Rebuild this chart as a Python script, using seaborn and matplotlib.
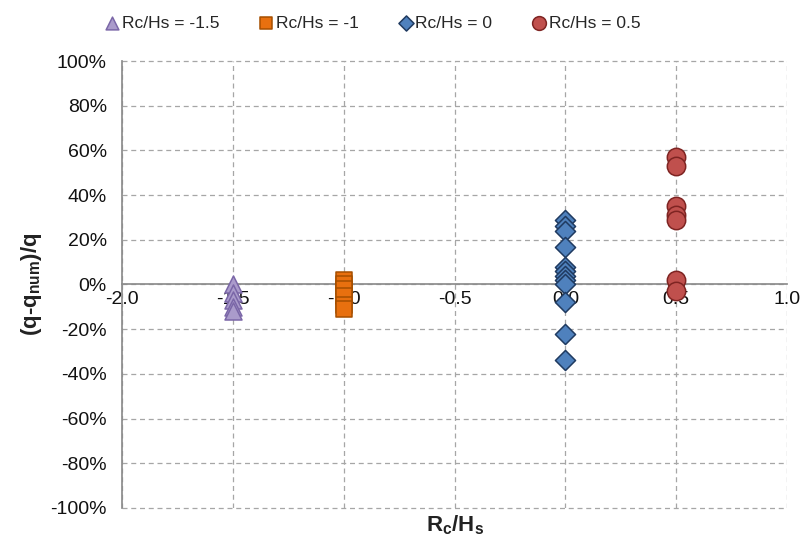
import numpy as np
import pandas as pd
import matplotlib
matplotlib.use("Agg")
import matplotlib.pyplot as plt
from matplotlib.ticker import FuncFormatter
import seaborn as sns

# Relative overtopping error per freeboard ratio
rc_hs_m15 = [0, -4, -7, -10, -12]
rc_hs_m1 = [2, 0, -2, -5, -9, -11]
rc_hs_0 = [29, 26, 24, 17, 8, 6, 4, 2, 0, -8, -22, -34]
rc_hs_05 = [57, 53, 35, 31, 29, 2, -3]

groups = [
    ("Rc/Hs = -1.5", -1.5, rc_hs_m15, "^", "#AA9BCB", "#7B67A8", 150),
    ("Rc/Hs = -1", -1.0, rc_hs_m1, "s", "#E8700F", "#A64F00", 120),
    ("Rc/Hs = 0", 0.0, rc_hs_0, "D", "#4F81BD", "#1F3A60", 105),
    ("Rc/Hs = 0.5", 0.5, rc_hs_05, "o", "#C0504D", "#7E2422", 175),
]

x_ticks = [-2.0, -1.5, -1.0, -0.5, 0.0, 0.5, 1.0]
y_ticks = [-100, -80, -60, -40, -20, 0, 20, 40, 60, 80, 100]

sns.set_theme(style="white")
plt.rcParams["font.family"] = ["Liberation Sans", "DejaVu Sans"]
plt.rcParams["axes.unicode_minus"] = False
plt.rcParams["mathtext.fontset"] = "custom"
plt.rcParams["mathtext.rm"] = "Liberation Sans"
plt.rcParams["mathtext.bf"] = "Liberation Sans:bold"

fig = plt.figure(figsize=(8.05, 5.38), dpi=100)
ax = fig.add_axes([0.1516, 0.0558, 0.8260, 0.8308])

for label, xv, vals, mk, fc, ec, size in groups:
    df = pd.DataFrame({"x": [xv] * len(vals), "y": vals})
    sns.scatterplot(data=df, x="x", y="y", marker=mk, s=size, color=fc,
                    edgecolor=ec, linewidth=1.1, ax=ax, label=label,
                    zorder=3, clip_on=False)

ax.set_xlim(-2.0, 1.0)
ax.set_ylim(-100, 100)
ax.set_xticks(x_ticks)
ax.set_yticks(y_ticks)
ax.xaxis.set_major_formatter(FuncFormatter(lambda v, p: f"{v:.1f}"))
ax.yaxis.set_major_formatter(FuncFormatter(lambda v, p: f"{v:.0f}%"))

ax.grid(True, color="#a6a6a6", linestyle=(0, (4, 3)), linewidth=0.9)
ax.set_axisbelow(True)
for gl in ax.get_xgridlines() + ax.get_ygridlines():
    gl.set_clip_on(False)

for side in ("top", "right"):
    ax.spines[side].set_visible(False)
ax.spines["bottom"].set_position(("data", 0))
ax.spines["bottom"].set_color("#8c8c8c")
ax.spines["left"].set_color("#8c8c8c")
ax.spines["bottom"].set_zorder(2)

ax.tick_params(axis="x", direction="inout", length=6, color="#8c8c8c",
               labelsize=14, pad=2, labelcolor="#111111")
ax.tick_params(axis="y", direction="out", length=5, color="#8c8c8c",
               labelsize=14, pad=6, labelcolor="#111111")

ax.set_xlabel(r"R$_\mathbf{c}$/H$_\mathbf{s}$", fontsize=16, fontweight="bold",
              color="#222222")
ax.xaxis.set_label_coords(0.5, -0.012)
ax.set_ylabel(r"(q-q$_\mathbf{num}$)/q", fontsize=16, fontweight="bold",
              color="#222222")
ax.yaxis.set_label_coords(-0.117, 0.5)

handles, labels = ax.get_legend_handles_labels()
ax.legend_.remove()
fig.legend(handles, labels, loc="center", bbox_to_anchor=(0.462, 0.957),
           ncol=4, frameon=False, fontsize=12.5, markerscale=0.75,
           handletextpad=0.05, handlelength=1.0, columnspacing=2.2)

fig.savefig("out.png", dpi=100)
